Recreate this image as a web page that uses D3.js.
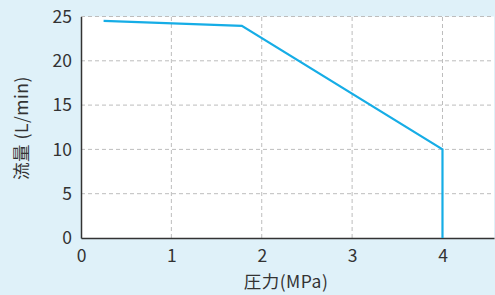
<!DOCTYPE html>
<html><head><meta charset="utf-8">
<script src="https://cdn.jsdelivr.net/npm/d3@7"></script>
<style>
html,body{margin:0;padding:0;background:#dff1f9;}
svg{display:block;font-family:"Noto Sans CJK JP","Noto Sans",sans-serif;}
</style></head>
<body><svg id="c" width="495" height="295"></svg>
<script>
const pressure = [0.25, 1.78, 4.0, 4.0];
const flow = [24.5, 23.95, 10.0, 0.0];
const xTicks = [0, 1, 2, 3, 4];
const yTicks = [0, 5, 10, 15, 20, 25];
const xLabel = "圧力(MPa)";
const yLabel = "流量 (L/min)";

const svg = d3.select("#c");
const m = {l:81, r:1, t:16.5, b:57};
const W = 495, H = 295;
const x = d3.scaleLinear().domain([0, 4.57]).range([m.l, W - m.r]);
const y = d3.scaleLinear().domain([0, 25]).range([H - m.b, m.t]);

svg.append("rect").attr("x", m.l).attr("y", m.t)
  .attr("width", W - m.r - m.l).attr("height", H - m.b - m.t).attr("fill", "#fff");

const g = svg.append("g");
g.selectAll(".gx").data(xTicks.filter(d => d > 0)).join("line")
  .attr("x1", d => x(d)).attr("x2", d => x(d)).attr("y1", y(0)).attr("y2", m.t)
  .attr("stroke", "#bdbdbd").attr("stroke-width", 1).attr("stroke-dasharray", "4,3");
g.selectAll(".gy").data(yTicks.filter(d => d > 0)).join("line")
  .attr("x1", m.l).attr("x2", W - m.r).attr("y1", d => y(d)).attr("y2", d => y(d))
  .attr("stroke", "#bdbdbd").attr("stroke-width", 1).attr("stroke-dasharray", "4,3");

const xAxis = svg.append("g").attr("transform", `translate(0,${y(0)})`)
  .call(d3.axisBottom(x).tickValues(xTicks).tickSize(0).tickPadding(12).tickFormat(d3.format("d")));
const yAxis = svg.append("g").attr("transform", `translate(${m.l},0)`)
  .call(d3.axisLeft(y).tickValues(yTicks).tickSize(0).tickPadding(9).tickFormat(d3.format("d")));
[xAxis, yAxis].forEach(a => {
  a.select(".domain").attr("stroke", "#333").attr("stroke-width", 1.5);
  a.selectAll("text").attr("fill", "#333").attr("font-size", 17.5)
    .attr("font-family", "'Noto Sans CJK JP','Noto Sans',sans-serif");
});

const line = d3.line().x((d, i) => x(pressure[i])).y((d, i) => y(flow[i]));
svg.append("path").datum(flow).attr("d", line).attr("fill", "none")
  .attr("stroke", "#16ade6").attr("stroke-width", 2.2).attr("stroke-linejoin", "miter");

svg.append("text").attr("x", 286).attr("y", 288).attr("text-anchor", "middle")
  .attr("fill", "#333").attr("font-size", 17.5).attr("letter-spacing", 0.5).text(xLabel);
svg.append("text").attr("transform", "translate(28,128) rotate(-90)").attr("text-anchor", "middle")
  .attr("fill", "#333").attr("font-size", 17.5).attr("letter-spacing", 0.5).text(yLabel);
</script></body></html>
